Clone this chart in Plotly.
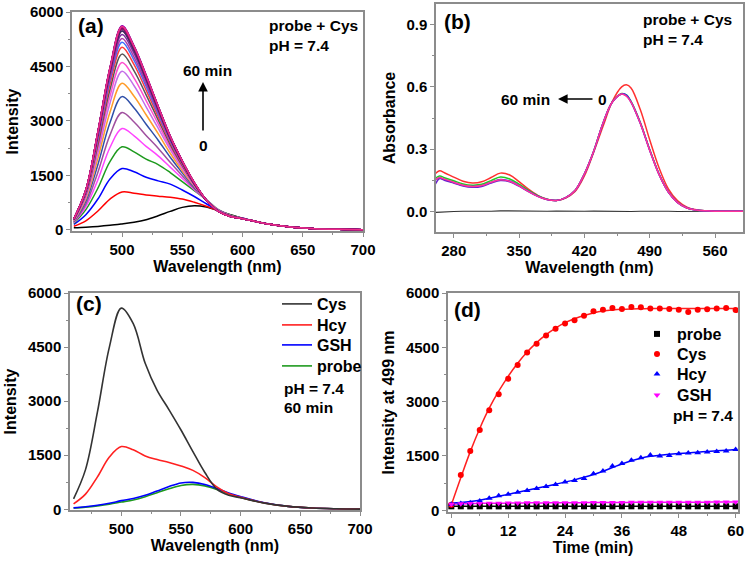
import plotly.graph_objects as go

# ---------------- data ----------------
# (a) emission spectra of probe + Cys, 0-60 min every 2 min
wl_a = [460, 470, 480, 490, 500, 510, 520, 530, 540, 550, 560, 570, 580, 590, 600, 620, 640, 660, 680, 700]
_tail = [170, 80, 35, 15, 5]
_tail_late = [820, 510, 370, 310] + _tail
spectra_a = [
    [60, 75, 95, 125, 165, 210, 280, 390, 510, 620, 665, 630, 530, 420, 320] + _tail,
    [100, 250, 520, 850, 1045, 1010, 960, 930, 900, 850, 760, 650, 520, 400, 320] + _tail,
    [150, 420, 850, 1400, 1690, 1600, 1450, 1350, 1260, 1100, 920, 720, 540, 400, 320] + _tail,
    [180, 560, 1150, 1880, 2290, 2150, 1950, 1800, 1580, 1330, 1080, 830, 560, 410, 320] + _tail,
    [200, 640, 1380, 2270, 2790, 2590, 2300, 2040, 1730, 1420, 1110, 830, 550, 400, 320] + _tail,
    [210, 710, 1590, 2610, 3230, 2970, 2600, 2250, 1860, 1490, 1140, 830, 550, 400, 320] + _tail,
    [230, 790, 1800, 2950, 3670, 3360, 2910, 2470, 2000, 1570, 1170, 830, 540, 390, 320] + _tail,
    [240, 850, 1970, 3240, 4040, 3680, 3170, 2650, 2110, 1630, 1200, 820, 530, 390, 310] + _tail,
    [260, 900, 2120, 3490, 4370, 3970, 3390, 2800, 2210, 1690, 1220, 820, 530, 385, 310] + _tail,
    [260, 940, 2240, 3680, 4610, 4180, 3560, 2920, 2280, 1730, 1230, 820, 520, 380, 310] + _tail,
    [270, 980, 2340, 3860, 4840, 4380, 3720, 3030, 2350, 1770, 1250, 820, 520, 380, 310] + _tail,
    [280, 1010, 2430, 4010, 5030, 4550, 3850, 3120, 2410, 1800, 1260, 820, 520, 380, 310] + _tail,
    [280, 1030, 2500, 4120, 5170, 4670, 3950, 3190, 2450, 1830, 1270, 820, 520, 380, 310] + _tail,
    [290, 1050, 2550, 4190, 5270, 4760, 4020, 3240, 2480, 1840, 1280, 820, 520, 370, 310] + _tail,
    [290, 1060, 2600, 4280, 5380, 4860, 4100, 3290, 2510, 1860, 1290, 820, 510, 370, 310] + _tail,
    [290, 1080, 2640, 4350, 5480, 4940, 4160, 3330, 2520, 1860, 1270] + _tail_late,
    [300, 1090, 2670, 4390, 5530, 4990, 4200, 3360, 2550, 1880, 1280] + _tail_late,
    [300, 1100, 2690, 4430, 5580, 5030, 4230, 3390, 2570, 1890, 1300] + _tail_late,
    [300, 1090, 2680, 4420, 5560, 5010, 4220, 3380, 2560, 1890, 1290] + _tail_late,
    [300, 1100, 2710, 4470, 5620, 5070, 4270, 3410, 2590, 1910, 1300] + _tail_late,
    [300, 1100, 2700, 4450, 5600, 5050, 4250, 3400, 2580, 1900, 1300] + _tail_late,
    [300, 1090, 2690, 4430, 5570, 5020, 4230, 3380, 2570, 1890, 1290] + _tail_late,
    [300, 1090, 2690, 4430, 5570, 5020, 4230, 3380, 2570, 1890, 1290] + _tail_late,
    [300, 1090, 2680, 4420, 5560, 5010, 4220, 3380, 2560, 1890, 1290] + _tail_late,
    [300, 1090, 2670, 4400, 5540, 5000, 4200, 3360, 2550, 1880, 1290] + _tail_late,
    [290, 1080, 2640, 4350, 5480, 4940, 4160, 3330, 2520, 1860, 1270] + _tail_late,
    [300, 1090, 2680, 4420, 5560, 5010, 4220, 3380, 2560, 1890, 1290] + _tail_late,
    [300, 1090, 2690, 4430, 5570, 5020, 4230, 3380, 2570, 1890, 1290] + _tail_late,
    [300, 1100, 2690, 4430, 5580, 5030, 4230, 3390, 2570, 1890, 1300] + _tail_late,
    [300, 1100, 2700, 4450, 5600, 5050, 4250, 3400, 2580, 1900, 1300] + _tail_late,
    [300, 1100, 2700, 4450, 5600, 5050, 4250, 3400, 2580, 1900, 1300] + _tail_late,
]
colors_a = ["#000000", "#ff0000", "#0000ff", "#1e9a1e", "#ff44ff", "#a0509f", "#2f4fa8", "#ff9d2a",
            "#c46ee8", "#ff4fcf", "#555555", "#ff3b3b", "#3f6fff", "#b03aa8", "#7a2aa0", "#b0006f",
            "#3a2a7a", "#8b008b", "#4a3a6a", "#9400d3", "#800040", "#3b2c6f", "#c71585", "#5a0d9d",
            "#8b1c62", "#383060", "#a0006f", "#700070", "#cc0066", "#6b2d7e", "#ee2a8a"]

# (b) absorption spectra
wl_b = [260, 265, 270, 280, 290, 300, 310, 320, 330, 340, 350, 360, 370, 380, 390, 400, 410, 420,
        430, 440, 450, 460, 465, 470, 480, 490, 500, 510, 520, 530, 540, 550, 560, 575, 590]
abs_0min = [0.180, 0.195, 0.186, 0.165, 0.145, 0.136, 0.142, 0.163, 0.184, 0.175, 0.143, 0.107, 0.077,
            0.058, 0.052, 0.064, 0.095, 0.170, 0.285, 0.410, 0.530, 0.600, 0.610, 0.595, 0.490, 0.345,
            0.210, 0.108, 0.050, 0.020, 0.007, 0.002, 0.0, 0.0, 0.0]
abs_green = [0.158, 0.170, 0.162, 0.147, 0.132, 0.126, 0.130, 0.148, 0.165, 0.156, 0.131, 0.101, 0.075,
             0.058, 0.052, 0.066, 0.100, 0.180, 0.290, 0.425, 0.528, 0.568, 0.562, 0.530, 0.428, 0.298,
             0.180, 0.094, 0.043, 0.016, 0.006, 0.002, 0.0, 0.0, 0.0]
abs_blue = [0.150, 0.160, 0.153, 0.139, 0.125, 0.119, 0.123, 0.139, 0.153, 0.146, 0.124, 0.097, 0.073,
            0.057, 0.052, 0.066, 0.100, 0.180, 0.290, 0.425, 0.527, 0.566, 0.560, 0.528, 0.425, 0.296,
            0.179, 0.093, 0.042, 0.016, 0.006, 0.002, 0.0, 0.0, 0.0]
abs_purple = [0.128, 0.158, 0.150, 0.136, 0.122, 0.116, 0.120, 0.136, 0.148, 0.142, 0.121, 0.095, 0.072,
              0.057, 0.052, 0.066, 0.100, 0.180, 0.290, 0.425, 0.527, 0.566, 0.558, 0.527, 0.424, 0.295,
              0.178, 0.093, 0.042, 0.016, 0.006, 0.002, 0.0, 0.0, 0.0]
abs_60min = [0.150, 0.163, 0.155, 0.140, 0.126, 0.120, 0.124, 0.140, 0.152, 0.145, 0.123, 0.096, 0.072,
             0.057, 0.052, 0.066, 0.100, 0.180, 0.290, 0.425, 0.527, 0.566, 0.555, 0.527, 0.424, 0.295,
             0.178, 0.093, 0.042, 0.016, 0.006, 0.002, 0.0, 0.0, 0.0]
abs_blank = [-0.006, -0.004, -0.002, -0.001, 0.0, -0.001, 0.001, 0.0, 0.002, 0.001, 0.0, -0.001, 0.001,
             0.0, 0.001, 0.0, -0.001, 0.0, 0.001, 0.0, 0.0, 0.001, 0.0, -0.001, 0.0, 0.001, 0.0, 0.0,
             -0.001, 0.0, 0.001, 0.0, 0.0, 0.0, 0.0]
colors_b = ["#ff3030", "#22cc22", "#2233ff", "#6a1fd0", "#ff3399"]

# (c) emission after 60 min with different thiols
wl_c = wl_a
em_cys = [290, 1100, 2700, 4500, 5580, 5150, 4050, 3300, 2760, 2200, 1600, 1020, 560, 390, 320, 170, 80, 35, 15, 5]
em_hcy = [150, 420, 900, 1450, 1740, 1650, 1480, 1380, 1300, 1200, 1080, 880, 620, 430, 330, 175, 80, 35, 15, 5]
em_gsh = [40, 70, 110, 165, 240, 300, 390, 510, 630, 730, 745, 690, 580, 450, 350, 180, 80, 35, 15, 5]
em_probe = [35, 60, 95, 140, 200, 260, 350, 460, 570, 660, 690, 650, 550, 430, 330, 175, 80, 35, 15, 5]

# (d) intensity at 499 nm vs time
time_d = [0, 2, 4, 6, 8, 10, 12, 14, 16, 18, 20, 22, 24, 26, 28, 30, 32, 34, 36, 38, 40, 42, 44, 46, 48,
          50, 52, 54, 56, 58, 60]
pts_probe = [110, 110, 108, 110, 110, 108, 110, 110, 110, 108, 110, 110, 110, 108, 110, 110, 110, 108,
             110, 110, 110, 108, 110, 110, 110, 108, 110, 110, 110, 110, 110]
pts_cys = [150, 975, 1640, 2215, 2765, 3205, 3630, 4015, 4355, 4600, 4825, 5010, 5155, 5250, 5375, 5495,
           5540, 5585, 5560, 5615, 5605, 5570, 5570, 5560, 5540, 5475, 5540, 5550, 5570, 5585, 5530]
pts_hcy = [165, 185, 210, 255, 330, 405, 440, 495, 550, 605, 660, 715, 780, 825, 875, 1010, 1085, 1220,
           1295, 1385, 1450, 1525, 1500, 1515, 1560, 1580, 1590, 1610, 1625, 1635, 1680]
pts_gsh = [170, 180, 185, 190, 195, 195, 200, 200, 205, 205, 205, 210, 210, 210, 210, 215, 215, 215, 215,
           220, 220, 220, 220, 220, 225, 225, 225, 225, 230, 230, 230]
fit_cys = [150, 900, 1620, 2260, 2820, 3290, 3700, 4060, 4370, 4630, 4850, 5030, 5180, 5290, 5380, 5450,
           5500, 5530, 5550, 5560, 5565, 5570, 5570, 5570, 5572, 5572, 5574, 5574, 5575, 5575, 5575]
fit_hcy = [200, 215, 240, 280, 330, 385, 440, 500, 555, 610, 665, 720, 780, 840, 910, 990, 1080, 1180,
           1280, 1370, 1440, 1490, 1520, 1545, 1565, 1585, 1605, 1625, 1645, 1660, 1680]

# ---------------- style ----------------
FONT = "Liberation Sans, Arial, Helvetica, sans-serif"
W, H = 750, 562
FRAME = "#8c8c8c"


def px(x0, x1):
    return [x0 / W, x1 / W]


def py(y_top, y_bot):
    return [1 - y_bot / H, 1 - y_top / H]


fig = go.Figure()

for row, col in zip(spectra_a, colors_a):
    fig.add_trace(go.Scatter(x=wl_a, y=row, mode="lines", line=dict(color=col, width=1.5, shape="spline"),
                             xaxis="x", yaxis="y", showlegend=False))

fig.add_trace(go.Scatter(x=wl_b, y=abs_blank, mode="lines", line=dict(color="#333333", width=1.2),
                         xaxis="x2", yaxis="y2", showlegend=False))
for arr, col in zip([abs_0min, abs_green, abs_blue, abs_purple, abs_60min], colors_b):
    fig.add_trace(go.Scatter(x=wl_b, y=arr, mode="lines", line=dict(color=col, width=1.5, shape="spline"),
                             xaxis="x2", yaxis="y2", showlegend=False))

# one legend per entry so each can sit exactly where the reference puts it
legend_font = dict(family="Liberation Sans, Arial, sans-serif", size=16, color="#000000", weight="bold")
legends = {}


def legend_at(key, x, y):
    legends[key] = dict(x=x / W, y=1 - y / H, xanchor="left", yanchor="middle", bgcolor="rgba(0,0,0,0)",
                        font=legend_font, itemwidth=30, borderwidth=0)


for name, arr, col, key, ly in [("probe", em_probe, "#1f9a1f", "legend4", 366),
                                ("GSH", em_gsh, "#0000ff", "legend3", 345),
                                ("Hcy", em_hcy, "#ff2020", "legend2", 325),
                                ("Cys", em_cys, "#333333", "legend", 304)]:
    fig.add_trace(go.Scatter(x=wl_c, y=arr, mode="lines", name=name,
                             line=dict(color=col, width=1.6, shape="spline"),
                             xaxis="x3", yaxis="y3", legend=key))
    legend_at(key, 277, ly)

for arr, col in [(pts_probe, "#000000"), (pts_gsh, "#ff00ff"), (fit_hcy, "#0000ff"), (fit_cys, "#ff2020")]:
    fig.add_trace(go.Scatter(x=time_d, y=arr, mode="lines", line=dict(color=col, width=1.5, shape="spline"),
                             xaxis="x4", yaxis="y4", showlegend=False))
for name, arr, col, sym, key, ly in [("probe", pts_probe, "#000000", "square", "legend5", 334),
                                     ("Cys", pts_cys, "#ff0000", "circle", "legend6", 354),
                                     ("Hcy", pts_hcy, "#0000ff", "triangle-up", "legend7", 374),
                                     ("GSH", pts_gsh, "#ff00ff", "triangle-down", "legend8", 395)]:
    fig.add_trace(go.Scatter(x=time_d, y=arr, mode="markers", name=name,
                             marker=dict(color=col, symbol=sym, size=6),
                             xaxis="x4", yaxis="y4", legend=key))
    legend_at(key, 637, ly)

tickfont = dict(family=FONT, size=15, color="#000000", weight="bold")
titlefont = dict(family=FONT, size=16, color="#000000", weight="bold")


def ax(dom, rng, dtick, tick0, title, minor_dtick, fmt=None, anchor=None, standoff=3):
    d = dict(domain=dom, range=rng, dtick=dtick, tick0=tick0, showline=True, linecolor=FRAME, linewidth=1.5,
             mirror=True, ticks="outside", ticklen=4, tickwidth=1.2, tickcolor=FRAME, showgrid=False,
             zeroline=False, tickfont=tickfont, title=dict(text=title, font=titlefont, standoff=standoff),
             minor=dict(dtick=minor_dtick, ticks="outside", ticklen=2.5, tickcolor=FRAME, showgrid=False),
             automargin=False, anchor=anchor)
    if fmt:
        d["tickformat"] = fmt
    return d


fig.update_layout(
    width=W, height=H, margin=dict(l=0, r=0, t=0, b=0),
    paper_bgcolor="white", plot_bgcolor="white",
    font=dict(family=FONT, color="#000000"),
    xaxis=ax(px(72, 363), [458.5, 700], 50, 500, "Wavelength (nm)", 25, anchor="y", standoff=3),
    yaxis=ax(py(12, 231), [-30, 6000], 1500, 0, "Intensity", 750, anchor="x", standoff=7),
    xaxis2=ax(px(436, 743), [261, 590], 70, 280, "Wavelength (nm)", 35, anchor="y2", standoff=3),
    yaxis2=ax(py(4, 232), [-0.1, 1.0], 0.3, 0, "Absorbance", 0.15, fmt=".1f", anchor="x2", standoff=7),
    xaxis3=ax(px(70, 360), [457, 700], 50, 500, "Wavelength (nm)", 25, anchor="y3", standoff=3),
    yaxis3=ax(py(293, 510), [-20, 6000], 1500, 0, "Intensity", 750, anchor="x3", standoff=7),
    xaxis4=ax(px(448, 738), [-0.7, 60.5], 12, 0, "Time (min)", 6, anchor="y4", standoff=3),
    yaxis4=ax(py(293, 512), [-47, 6000], 1500, 0, "Intensity at 499 nm", 750, anchor="x4", standoff=7),
    **legends,
)

lab = dict(family=FONT, size=21, color="#000000", weight="bold")
txt = dict(family=FONT, size=15.5, color="#000000", weight="bold")


def note(x, y, text, font, anchor="left"):
    fig.add_annotation(x=x / W, y=1 - y / H, xref="paper", yref="paper", text=text, showarrow=False,
                       xanchor=anchor, yanchor="middle", font=font)


note(76, 26, "(a)", lab)
note(267, 25, "probe + Cys", txt)
note(267, 45, "pH = 7.4", txt)
note(207, 70, "60 min", txt, "center")
note(203, 145, "0", txt, "center")
note(442, 22, "(b)", lab)
note(641, 20, "probe + Cys", txt)
note(641, 40, "pH = 7.4", txt)
note(499, 99, "60 min", txt)
note(596, 99, "0", txt)
note(74, 303, "(c)", lab)
note(282, 388, "pH = 7.4", txt)
note(282, 407, "60 min", txt)
note(452, 309, "(d)", lab)
note(671, 416, "pH = 7.4", txt)

fig.add_annotation(x=203 / W, y=1 - 82 / H, xref="paper", yref="paper", text="", showarrow=True,
                   ax=0, ay=50, arrowhead=2, arrowsize=1.2, arrowwidth=1.6, arrowcolor="#000000")
fig.add_annotation(x=558 / W, y=1 - 99 / H, xref="paper", yref="paper", text="", showarrow=True,
                   ax=36, ay=0, arrowhead=2, arrowsize=1.2, arrowwidth=1.6, arrowcolor="#000000")

fig.write_html("out.html", config={"displayModeBar": False},
               post_script="document.body.style.margin='0';document.body.style.overflow='hidden';")
